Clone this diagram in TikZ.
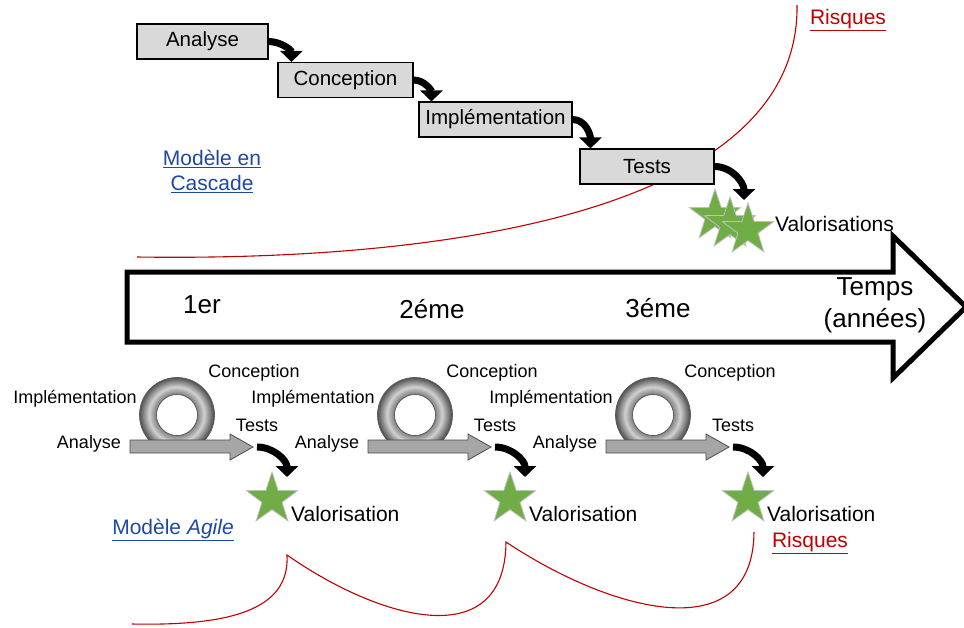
\documentclass[tikz,border=0pt]{standalone}
\usepackage{fontspec}
\setmainfont{Liberation Sans}
\usetikzlibrary{arrows.meta,shapes.geometric}
\definecolor{boxgray}{RGB}{217,217,217}
\definecolor{stargreen}{RGB}{112,173,71}
\definecolor{riskred}{RGB}{192,0,0}
\definecolor{linkblue}{RGB}{31,73,160}
\definecolor{shaftgray}{RGB}{166,166,166}
\begin{document}
\begin{tikzpicture}[x=1pt,y=-1pt,
  wbox/.style={draw=black, line width=1.1pt, fill=boxgray, minimum height=35pt, inner sep=0pt, font=\fontsize{20.5}{24}\selectfont},
  flow/.style={line width=7pt, -{Triangle[width=22pt,length=11pt]}},
  staricon/.style={star, star points=5, star point ratio=2.55, minimum size=54pt, inner sep=0pt, fill=stargreen, draw=black!25, line width=0.8pt},
  lbl/.style={inner sep=0pt, font=\fontsize{18}{20}\selectfont},
  vlbl/.style={inner sep=0pt, anchor=west, font=\fontsize{21}{24}\selectfont},
  biglbl/.style={inner sep=0pt, font=\fontsize{26}{32}\selectfont},
  risk/.style={riskred, line width=1.1pt},
  shaft/.style={draw=black!70, line width=0.8pt, fill=shaftgray}]

\useasboundingbox (0,0) rectangle (964,627);
\fill[white] (0,0) rectangle (964,627);

% waterfall risk curve
\draw[risk] (137,257) .. controls (480,262) and (800,200) .. (797,5);

% waterfall boxes
\node[wbox, minimum width=131pt] (analyse) at (202.5,41.5) {Analyse};
\node[wbox, minimum width=135pt] (conception) at (345.5,80) {Conception};
\node[wbox, minimum width=153pt] (implementation) at (495.5,119.5) {Implémentation};
\node[wbox, minimum width=134pt] (tests) at (647,166.5) {Tests};

% stars
\node[staricon] (s1) at (715,216) {};
\node[staricon] (s2) at (730,224) {};
\node[staricon] (s3) at (748,230) {};
\coordinate (valtip) at (744,200);

\draw[flow] (analyse.east) to[out=0,in=90] ([xshift=14pt]conception.north west);
\draw[flow] (conception.east) to[out=0,in=90] ([xshift=13pt]implementation.north west);
\draw[flow] (implementation.east) to[out=0,in=90] ([xshift=11pt]tests.north west);
\draw[flow] (tests.east) to[out=0,in=90] (valtip);

\node[vlbl] (valos) at (775,224) {Valorisations};
\node[inner sep=0pt, text=riskred, font=\fontsize{21}{24}\selectfont] (risques1) at (848,20) {\underline{Risques}};
\node[inner sep=0pt, align=center, text=linkblue, font=\fontsize{21}{25}\selectfont] (cascade) at (212,171) {\underline{Modèle en}\\\underline{Cascade}};

% time arrow
\draw[line width=5pt, fill=white, line join=miter] (127,272) -- (893,272) -- (893,236) -- (966,307) -- (893,378) -- (893,342) -- (127,342) -- cycle;
\node[biglbl] (y1) at (202,305) {1er};
\node[biglbl] (y2) at (432,309) {2éme};
\node[biglbl] (y3) at (658,308) {3éme};
\node[biglbl, align=center] (temps) at (875,305) {Temps\\(années)};

% agile loops
\foreach \i/\dx in {1/0,2/238,3/476}{
  \begin{scope}[xshift=\dx pt]
    \foreach \r in {21,21.5,...,37}{
      \pgfmathsetmacro\lv{(\r<28) ? (52-(\r-20.5)*34/7.5) : (18+(\r-28)*50/9.5)}
      \draw[line width=1.1pt, black!\lv] (177,415) circle (\r pt);
    }
    \draw[black!65, line width=0.7pt] (177,415) circle (37.5pt) (177,415) circle (20.5pt);
    \draw[shaft] (130,440) -- (230,440) -- (230,434) -- (253,447) -- (230,460) -- (230,453) -- (130,453) -- cycle;
    \node[lbl] (conc\i) at (254,373) {Conception};
    \node[lbl] (impl\i) at (75,399) {Implémentation};
    \node[lbl] (ana\i) at (89,444) {Analyse};
    \node[lbl] (test\i) at (257,425) {Tests};
    \node[staricon] (star\i) at (272,499) {};
    \coordinate (ts\i) at (257,447);
    \coordinate (tt\i) at (287,477);
    \draw[flow] (ts\i) to[out=0,in=90] (tt\i);
    \node[vlbl] (valo\i) at (291,514) {Valorisation};
  \end{scope}
}

\node[inner sep=0pt, text=linkblue, font=\fontsize{21}{24}\selectfont] (agile) at (173,530) {\underline{Modèle \textit{Agile}}};
\node[inner sep=0pt, text=riskred, font=\fontsize{21}{24}\selectfont] (risques2) at (810,543) {\underline{Risques}};

% agile risk curve
\draw[risk] (132,624) .. controls (230,626) and (290,610) .. (287,555)
  .. controls (380,620) and (505,655) .. (506,542)
  .. controls (611,612) and (753,650) .. (754,532);
\end{tikzpicture}
\end{document}
